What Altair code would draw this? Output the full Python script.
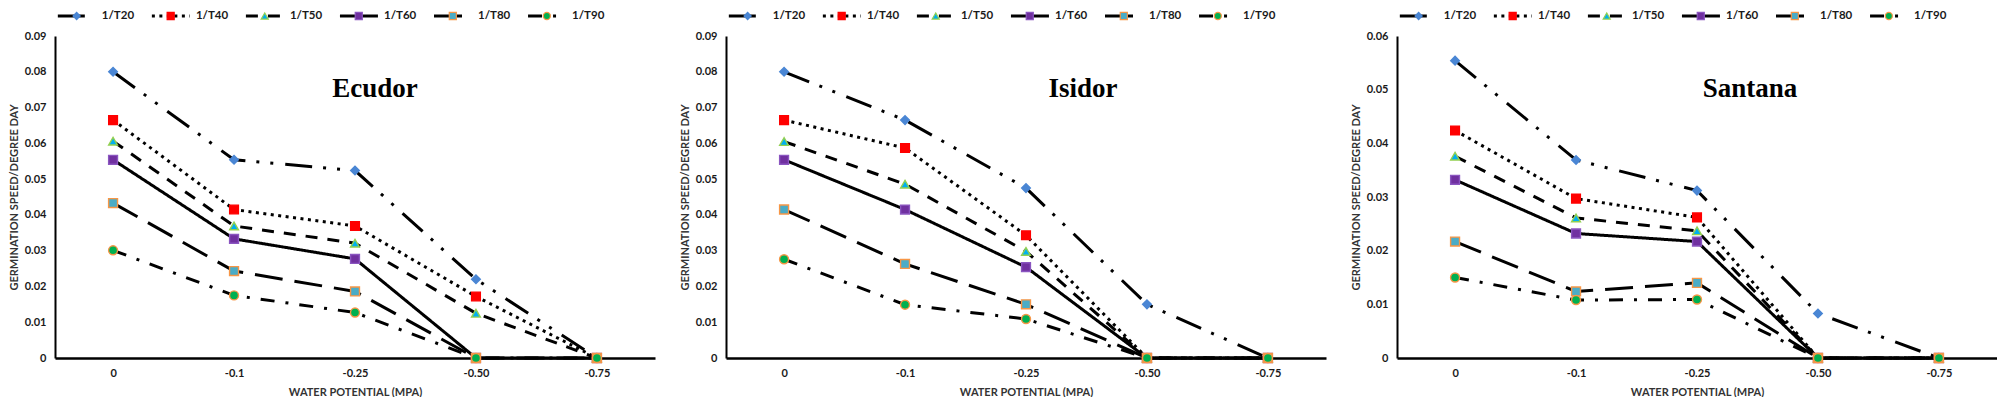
import altair as alt
import pandas as pd

# ---------------- data ----------------
categories = ["0", "-0.1", "-0.25", "-0.50", "-0.75"]
series = ["1/T20", "1/T40", "1/T50", "1/T60", "1/T80", "1/T90"]

ecudor_t20 = [0.0800, 0.0554, 0.0524, 0.0220, 0.0]
ecudor_t40 = [0.0665, 0.0415, 0.0369, 0.0172, 0.0]
ecudor_t50 = [0.0606, 0.0369, 0.0321, 0.0125, 0.0]
ecudor_t60 = [0.0554, 0.0333, 0.0277, 0.0, 0.0]
ecudor_t80 = [0.0433, 0.0243, 0.0186, 0.0, 0.0]
ecudor_t90 = [0.0301, 0.0175, 0.0127, 0.0, 0.0]

isidor_t20 = [0.0800, 0.0665, 0.0475, 0.0150, 0.0]
isidor_t40 = [0.0665, 0.0587, 0.0343, 0.0, 0.0]
isidor_t50 = [0.0605, 0.0486, 0.0298, 0.0, 0.0]
isidor_t60 = [0.0554, 0.0415, 0.0254, 0.0, 0.0]
isidor_t80 = [0.0415, 0.0263, 0.0150, 0.0, 0.0]
isidor_t90 = [0.0276, 0.0149, 0.0109, 0.0, 0.0]

santana_t20 = [0.0554, 0.0369, 0.0312, 0.0083, 0.0]
santana_t40 = [0.0424, 0.0297, 0.0262, 0.0, 0.0]
santana_t50 = [0.0376, 0.0261, 0.0237, 0.0, 0.0]
santana_t60 = [0.0332, 0.0232, 0.0217, 0.0, 0.0]
santana_t80 = [0.0217, 0.0124, 0.0140, 0.0, 0.0]
santana_t90 = [0.0150, 0.0108, 0.0109, 0.0, 0.0]

ticks_09 = [0, 0.01, 0.02, 0.03, 0.04, 0.05, 0.06, 0.07, 0.08, 0.09]
ticks_06 = [0, 0.01, 0.02, 0.03, 0.04, 0.05, 0.06]

# ---------------- styles ----------------
dashes = [[27, 11, 3, 11, 3, 12], [3, 4.5], [12, 10], [1, 0], [28, 12], [14, 11, 3, 11]]
widths = [3, 3, 3, 2.5, 3, 3]
shapes = ["diamond", "square", "triangle-up", "square", "square", "circle"]
fills = ["#4A86D4", "#FF0000", "#00B0F0", "#7030A0", "#4BACC6", "#00B050"]
strokes = ["#4A86D4", "#FF0000", "#92D050", "#8A55C0", "#F79646", "#F79646"]
sizes = [75, 81, 75, 64, 64, 64]

FONT = "Lato"

dash_scale = alt.Scale(domain=series, range=dashes)
width_scale = alt.Scale(domain=series, range=widths)
shape_scale = alt.Scale(domain=series, range=shapes)
fill_scale = alt.Scale(domain=series, range=fills)
stroke_scale = alt.Scale(domain=series, range=strokes)
size_scale = alt.Scale(domain=series, range=sizes)


def long_df(rows):
    recs = []
    for s, vals in zip(series, rows):
        for i, (c, v) in enumerate(zip(categories, vals)):
            recs.append({"series": s, "wp": c, "idx": i, "value": v})
    return pd.DataFrame(recs)


def panel(name, rows, ymax, ticks, dx):
    df = long_df(rows)
    x = alt.X("wp:N",
              scale=alt.Scale(type="point", domain=categories, padding=0.48),
              axis=alt.Axis(title="WATER POTENTIAL (MPA)", labelAngle=0, orient="bottom",
                            domainWidth=2.5, labelPadding=9, titlePadding=8))
    y = alt.Y("value:Q",
              scale=alt.Scale(domain=[0, ymax], nice=False, zero=True),
              axis=alt.Axis(title="GERMINATION SPEED/DEGREE DAY", values=ticks,
                            labelExpr="datum.value == 0 ? '0' : format(datum.value, '.2f')",
                            domainWidth=2, labelPadding=9, titlePadding=5))
    base = alt.Chart(df)
    lines = base.mark_line(color="black", strokeCap="butt").encode(
        x=x, y=y,
        strokeDash=alt.StrokeDash("series:N", scale=dash_scale, legend=None),
        strokeWidth=alt.StrokeWidth("series:N", scale=width_scale, legend=None),
        order="idx:Q",
    )
    pts = base.mark_point(filled=True, opacity=1, strokeWidth=1.4).encode(
        x=x, y=y,
        shape=alt.Shape("series:N", scale=shape_scale, legend=None),
        fill=alt.Fill("series:N", scale=fill_scale, legend=None),
        stroke=alt.Stroke("series:N", scale=stroke_scale, legend=None),
        size=alt.Size("series:N", scale=size_scale, legend=None),
    )
    plot = alt.layer(lines, pts)

    # custom legend row above the plot (one entry = one unit of its own x scale)
    lx = alt.Scale(domain=[-0.03, 6.35], nice=False, zero=False)
    leg = alt.Chart(pd.DataFrame({"series": series})).transform_window(
        k="row_number()"
    ).transform_calculate(
        x0="datum.k - 1", xm="datum.k - 0.8", x1="datum.k - 0.596", xt="datum.k - 0.532"
    )
    leg_rule = leg.mark_rule(color="black").encode(
        x=alt.X("x0:Q", scale=lx, axis=None), x2="x1:Q", y=alt.value(-20),
        strokeDash=alt.StrokeDash("series:N", scale=dash_scale, legend=None),
        strokeWidth=alt.StrokeWidth("series:N", scale=width_scale, legend=None),
    )
    leg_pt = leg.mark_point(filled=True, opacity=1, strokeWidth=1.2).encode(
        x=alt.X("xm:Q", scale=lx, axis=None), y=alt.value(-20),
        shape=alt.Shape("series:N", scale=shape_scale, legend=None),
        fill=alt.Fill("series:N", scale=fill_scale, legend=None),
        stroke=alt.Stroke("series:N", scale=stroke_scale, legend=None),
        size=alt.value(50),
    )
    leg_txt = leg.mark_text(align="left", baseline="middle", font=FONT,
                            fontWeight="bold", fontSize=11.5, color="#1a1a1a").encode(
        x=alt.X("xt:Q", scale=lx, axis=None), y=alt.value(-20), text="series:N",
    )
    title = alt.Chart(pd.DataFrame({"t": [name]})).mark_text(
        font="Liberation Serif", fontSize=27, fontWeight="bold", color="black",
        align="center", baseline="middle",
    ).encode(x=alt.value(300 + dx), y=alt.value(53), text="t:N")
    legend = alt.layer(leg_rule, leg_pt, leg_txt, title)

    return alt.layer(plot, legend).resolve_scale(x="independent").properties(
        width=600, height=322,
    )


p1 = panel("Ecudor", [ecudor_t20, ecudor_t40, ecudor_t50, ecudor_t60, ecudor_t80, ecudor_t90],
           0.09, ticks_09, 20)
p2 = panel("Isidor", [isidor_t20, isidor_t40, isidor_t50, isidor_t60, isidor_t80, isidor_t90],
           0.09, ticks_09, 57)
p3 = panel("Santana", [santana_t20, santana_t40, santana_t50, santana_t60, santana_t80, santana_t90],
           0.06, ticks_06, 53)

chart = alt.hconcat(p1, p2, p3, spacing=24).properties(
    padding={"top": 2, "left": 0, "right": 0, "bottom": 0}
).configure_axis(
    labelFont=FONT, labelFontWeight="bold", labelFontSize=11, labelColor="#1a1a1a",
    titleFont=FONT, titleFontWeight="bold", titleFontSize=11, titleColor="#333333",
    grid=False, ticks=False, domainColor="black",
).configure_view(stroke=None)

chart.save("out.html", embed_options={"renderer": "svg", "actions": False})
